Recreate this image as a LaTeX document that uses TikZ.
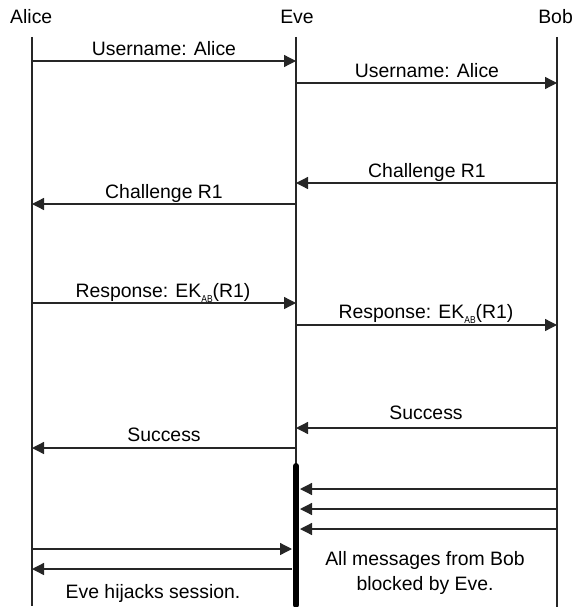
\documentclass[tikz,border=0pt]{standalone}
\usepackage{fontspec}
\setmainfont{Liberation Sans}
\usetikzlibrary{arrows.meta}
\newcommand{\subAB}{\raisebox{-5pt}{\scalebox{0.85}[1]{\fontsize{10}{10}\selectfont AB}}}
\begin{document}
\begin{tikzpicture}[x=1pt,y=-1pt,
  lifeline/.style={line width=1.3pt,draw=black!85},
  msg/.style={line width=1.3pt,draw=black!85,-{Triangle[length=12pt,width=12pt]}},
  lbl/.style={font=\fontsize{19.4}{23}\selectfont,anchor=base,inner sep=0pt},
  blockbar/.style={line width=6pt,line cap=round}]
\useasboundingbox (0,0) rectangle (574,607);
% headers
\node[lbl,anchor=base west] (alice) at (10,24) {Alice};
\node[lbl] (eve) at (297,24) {Eve};
\node[lbl,anchor=base east] (bob) at (573,24) {Bob};
% lifelines
\coordinate (At) at (32,37);  \coordinate (Ab) at (32,606);
\coordinate (Et) at (296,37); \coordinate (Eb) at (296,606);
\coordinate (Bt) at (557,37); \coordinate (Bb) at (557,607);
\draw[lifeline] (At) -- (Ab);
\draw[lifeline] (Et) -- (Eb);
\draw[lifeline] (Bt) -- (Bb);
% message endpoints
\foreach \n/\y in {1/61,2/83,3/183,4/204,5/303,6/325,7/428,8/448}{
  \coordinate (A\n) at (32,\y);
  \coordinate (E\n) at (296,\y);
  \coordinate (B\n) at (557,\y);
}
\draw[msg] (A1) -- (E1);
\draw[msg] (E2) -- (B2);
\draw[msg] (B3) -- (E3);
\draw[msg] (E4) -- (A4);
\draw[msg] (A5) -- (E5);
\draw[msg] (E6) -- (B6);
\draw[msg] (B7) -- (E7);
\draw[msg] (E8) -- (A8);
% labels
\node[lbl] (l1) at (164,56) {Username: Alice};
\node[lbl] (l2) at (427,78) {Username: Alice};
\node[lbl] (l3) at (427,177) {Challenge R1};
\node[lbl] (l4) at (164,198) {Challenge R1};
\node[lbl] (l5) at (163,297) {Response: EK\subAB(R1)};
\node[lbl] (l6) at (426,318) {Response: EK\subAB(R1)};
\node[lbl] (l7) at (426,419) {Success};
\node[lbl] (l8) at (164,441) {Success};
% blocking bar
\coordinate (Xt) at (296,466); \coordinate (Xb) at (296,605);
\draw[blockbar] (Xt) -- (Xb);
\foreach \n/\y in {9/489,10/509,11/529}{
  \coordinate (B\n) at (557,\y);
  \coordinate (X\n) at (300,\y);
  \draw[msg] (B\n) -- (X\n);
}
\coordinate (A12) at (32,549); \coordinate (X12) at (292,549);
\coordinate (A13) at (32,569); \coordinate (X13) at (292,569);
\draw[msg] (A12) -- (X12);
\draw[msg] (X13) -- (A13);
\node[lbl] (t1) at (425,565) {All messages from Bob};
\node[lbl] (t2) at (425,590) {blocked by Eve.};
\node[lbl] (t3) at (153,598) {Eve hijacks session.};
\end{tikzpicture}
\end{document}
